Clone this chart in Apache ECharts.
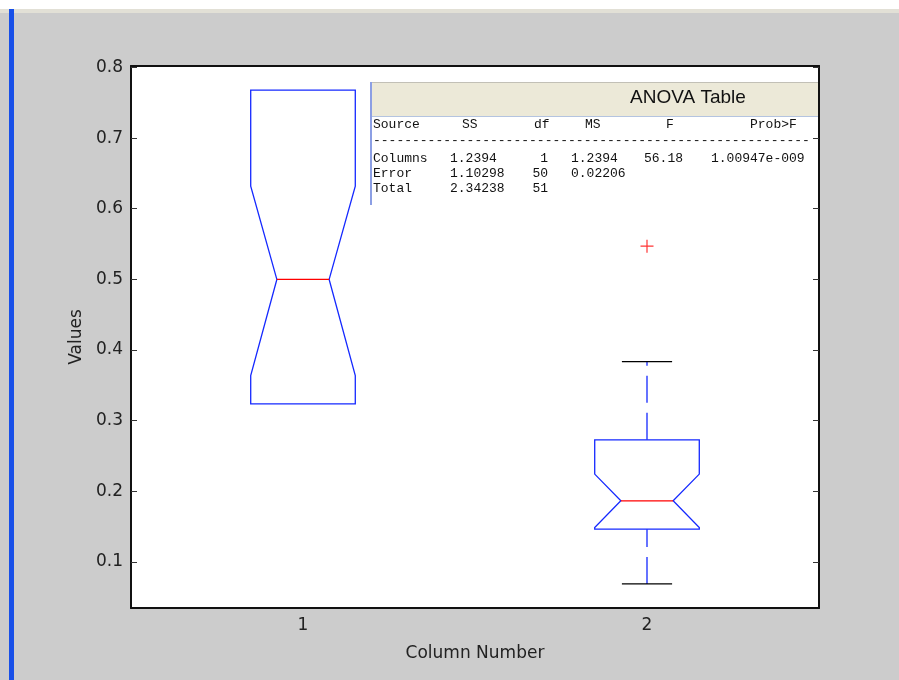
<!DOCTYPE html>
<html>
<head>
<meta charset="utf-8">
<title>Column Number boxplot</title>
<script src="https://cdn.jsdelivr.net/npm/echarts@6/dist/echarts.min.js"></script>
<style>
  html, body { margin: 0; padding: 0; background: #cccccc; }
  #chart { width: 899px; height: 680px; }
</style>
</head>
<body>
<div id="chart"></div>
<script>
// Groups on the x axis
const categories = ['1', '2'];

// Notched box statistics per group
const whiskerLow  = [0.324, 0.069];
const quartile1   = [0.324, 0.1466];
const notchLow    = [0.364, 0.149];
const medians     = [0.500, 0.1867];
const notchHigh   = [0.632, 0.2245];
const quartile3   = [0.768, 0.273];
const whiskerHigh = [0.768, 0.3836];

// Points beyond the whiskers: [group index, value]
const outliers = [[1, 0.547]];

// Value-axis ticks
const yTicks = [0.1, 0.2, 0.3, 0.4, 0.5, 0.6, 0.7, 0.8];
const yMin = 0.035;
const yMax = 0.802;

// One-way ANOVA summary
const anovaHeader = ['Source', 'SS', 'df', 'MS', 'F', 'Prob>F'];
const anovaSource = ['Columns', 'Error', 'Total'];
const anovaSS     = ['1.2394', '1.10298', '2.34238'];
const anovaDf     = ['1', '50', '51'];
const anovaMS     = ['1.2394', '0.02206', ''];
const anovaF      = ['56.18', '', ''];
const anovaP      = ['1.00947e-009', '', ''];

const boxData = categories.map((c, i) => [
  i, whiskerLow[i], quartile1[i], notchLow[i], medians[i],
  notchHigh[i], quartile3[i], whiskerHigh[i]
]);

const BLUE = '#1428ff';
const RED = '#ff0000';
const LABEL_FONT = 'DejaVu Sans';

function renderNotchedBox(params, api) {
  const idx = api.value(0);
  const pt = k => api.coord([idx, api.value(k)]);
  const cx = pt(4)[0];
  const yLo = pt(1)[1], yQ1 = pt(2)[1], yNlo = pt(3)[1], yMed = pt(4)[1];
  const yNhi = pt(5)[1], yQ3 = pt(6)[1], yHi = pt(7)[1];
  const band = api.size([1, 0])[0];
  const hw = band * 0.152;   // half box width
  const nw = hw * 0.5;       // half width at the notch waist
  const cw = hw * 0.48;      // half whisker-cap width
  const kids = [];
  const dash = [27, 10];
  if (Math.abs(yHi - yQ3) > 0.5) {
    kids.push({ type: 'line', shape: { x1: cx, y1: yQ3, x2: cx, y2: yHi },
      style: { stroke: BLUE, lineWidth: 1.3, lineDash: dash } });
    kids.push({ type: 'line', shape: { x1: cx - cw, y1: yHi, x2: cx + cw, y2: yHi },
      style: { stroke: '#000', lineWidth: 1.2 } });
  }
  if (Math.abs(yLo - yQ1) > 0.5) {
    kids.push({ type: 'line', shape: { x1: cx, y1: yLo, x2: cx, y2: yQ1 },
      style: { stroke: BLUE, lineWidth: 1.3, lineDash: dash } });
    kids.push({ type: 'line', shape: { x1: cx - cw, y1: yLo, x2: cx + cw, y2: yLo },
      style: { stroke: '#000', lineWidth: 1.2 } });
  }
  kids.push({
    type: 'polygon',
    shape: { points: [
      [cx - hw, yQ1], [cx - hw, yNlo], [cx - nw, yMed], [cx - hw, yNhi], [cx - hw, yQ3],
      [cx + hw, yQ3], [cx + hw, yNhi], [cx + nw, yMed], [cx + hw, yNlo], [cx + hw, yQ1]
    ] },
    style: { fill: 'none', stroke: BLUE, lineWidth: 1.3 }
  });
  kids.push({ type: 'line', shape: { x1: cx - nw, y1: yMed, x2: cx + nw, y2: yMed },
    style: { stroke: RED, lineWidth: 1.3 } });
  return { type: 'group', children: kids };
}

// ANOVA table drawn as text on top of the plot
const tableFont = '13px "Liberation Mono", monospace';
const tableText = (x, y, text, align) => ({
  type: 'text', x, y, z: 20,
  style: { text, font: tableFont, fill: '#111', align: align || 'left', verticalAlign: 'middle' }
});
const headerX = [373, 462, 534, 585, 666, 750];
const colX = [373, 450, 548, 571, 644, 711];
const rowY = [159, 174, 189];
const tableEls = [
  { type: 'rect', z: 10, shape: { x: 372, y: 82, width: 446, height: 34 },
    style: { fill: '#ece9d8' } },
  { type: 'line', z: 11, shape: { x1: 372, y1: 82.5, x2: 818, y2: 82.5 },
    style: { stroke: '#c2c0b6', lineWidth: 1 } },
  { type: 'line', z: 11, shape: { x1: 372, y1: 116.5, x2: 818, y2: 116.5 },
    style: { stroke: '#b4c4e0', lineWidth: 1 } },
  { type: 'line', z: 11, shape: { x1: 371, y1: 82, x2: 371, y2: 205 },
    style: { stroke: '#8c9fe4', lineWidth: 2 } },
  { type: 'text', x: 688, y: 98, z: 20,
    style: { text: 'ANOVA Table', font: '19px "Liberation Sans", Arial, sans-serif',
      fill: '#111', align: 'center', verticalAlign: 'middle' } },
  tableText(373, 141, '-'.repeat(56))
];
anovaHeader.forEach((h, j) => tableEls.push(tableText(headerX[j], 125, h)));
anovaSource.forEach((s, r) => {
  tableEls.push(tableText(colX[0], rowY[r], s));
  tableEls.push(tableText(colX[1], rowY[r], anovaSS[r]));
  tableEls.push(tableText(colX[2], rowY[r], anovaDf[r], 'right'));
  if (anovaMS[r]) tableEls.push(tableText(colX[3], rowY[r], anovaMS[r]));
  if (anovaF[r]) tableEls.push(tableText(colX[4], rowY[r], anovaF[r]));
  if (anovaP[r]) tableEls.push(tableText(colX[5], rowY[r], anovaP[r]));
});

const axisLineStyle = { color: '#111', width: 2 };
const tickStyle = { color: '#333', width: 1 };

const chart = echarts.init(document.getElementById('chart'), null, { renderer: 'canvas' });
chart.setOption({
  backgroundColor: '#cccccc',
  animation: false,
  grid: {
    left: 131, top: 66, right: 80, bottom: 72,
    show: true, backgroundColor: '#ffffff', borderWidth: 0
  },
  graphic: [
    { type: 'rect', shape: { x: 0, y: 0, width: 899, height: 9 }, style: { fill: '#ffffff' } },
    { type: 'rect', shape: { x: 0, y: 9, width: 899, height: 4 }, style: { fill: '#e2e0d6' } },
    { type: 'rect', shape: { x: 9, y: 9, width: 5, height: 671 }, style: { fill: '#1850e8' } }
  ].concat(tableEls),
  xAxis: [
    {
      type: 'category', data: categories, position: 'bottom',
      boundaryGap: true,
      name: 'Column Number', nameLocation: 'middle', nameGap: 37,
      nameTextStyle: { fontFamily: LABEL_FONT, fontSize: 17, color: '#222' },
      axisLine: { lineStyle: axisLineStyle },
      axisTick: { inside: true, alignWithLabel: true, length: 6, lineStyle: tickStyle },
      axisLabel: { fontFamily: LABEL_FONT, fontSize: 17, color: '#222', margin: 9 },
      splitLine: { show: false }
    },
    {
      type: 'category', data: categories, position: 'top',
      boundaryGap: true,
      axisLine: { lineStyle: axisLineStyle },
      axisTick: { inside: true, alignWithLabel: true, length: 6, lineStyle: tickStyle },
      axisLabel: { show: false },
      splitLine: { show: false }
    }
  ],
  yAxis: [
    {
      type: 'value', min: yMin, max: yMax, position: 'left',
      name: 'Values', nameLocation: 'middle', nameGap: 46, nameRotate: 90,
      nameTextStyle: { fontFamily: LABEL_FONT, fontSize: 17, color: '#222' },
      axisLine: { show: true, lineStyle: axisLineStyle },
      axisTick: { show: true, inside: true, length: 6, lineStyle: tickStyle, customValues: yTicks },
      axisLabel: { fontFamily: LABEL_FONT, fontSize: 17, color: '#222', margin: 8,
        customValues: yTicks, formatter: v => String(+v.toFixed(1)) },
      splitLine: { show: false }
    },
    {
      type: 'value', min: yMin, max: yMax, position: 'right',
      axisLine: { show: true, lineStyle: axisLineStyle },
      axisTick: { show: true, inside: true, length: 6, lineStyle: tickStyle, customValues: yTicks },
      axisLabel: { show: false },
      splitLine: { show: false }
    }
  ],
  series: [
    {
      type: 'custom',
      xAxisIndex: 0, yAxisIndex: 0,
      renderItem: renderNotchedBox,
      encode: { x: 0, y: [1, 2, 3, 4, 5, 6, 7] },
      data: boxData,
      z: 5
    },
    {
      type: 'scatter',
      xAxisIndex: 0, yAxisIndex: 0,
      data: outliers,
      symbol: 'path://M5,0 L5,10 M0,5 L10,5',
      symbolSize: 13,
      itemStyle: { color: 'transparent', borderColor: RED, borderWidth: 1.2 },
      z: 6
    }
  ]
});
</script>
</body>
</html>
